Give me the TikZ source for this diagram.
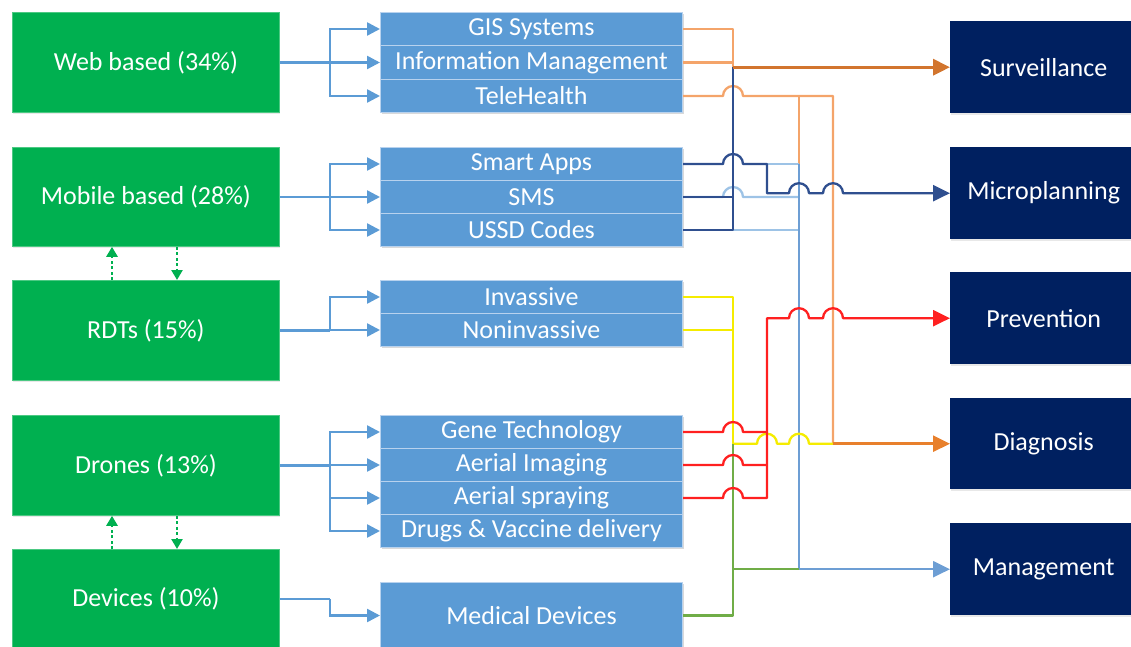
\documentclass[tikz,border=0pt]{standalone}
\usepackage{fontspec}
\setmainfont{Carlito}
\usetikzlibrary{arrows.meta,calc,shadows}
\definecolor{gfill}{HTML}{00B050}
\definecolor{gedge}{HTML}{4CC983}
\definecolor{bfill}{HTML}{5B9BD5}
\definecolor{bedge}{HTML}{B8D2EE}
\definecolor{dfill}{HTML}{002060}
\definecolor{oline}{HTML}{F4A46A}
\definecolor{sline}{HTML}{D2752E}
\definecolor{dline}{HTML}{2F4F8F}
\definecolor{lline}{HTML}{9DC3E6}
\definecolor{steel}{HTML}{6D9ED4}
\definecolor{rline}{HTML}{FF2020}
\definecolor{yline}{HTML}{F5EC00}
\definecolor{grline}{HTML}{70AD47}
\definecolor{dgo}{HTML}{E8802C}
\newcommand\hopat[1]{-- ($(#1)+(-10,0)$) arc[start angle=180,end angle=360,radius=10]}
\begin{document}
\begin{tikzpicture}[x=1pt,y=-1pt,
  every node/.style={inner sep=0pt, anchor=north west, text=white,
    font=\fontsize{26}{31}\selectfont},
  gbox/.style={draw=gedge, line width=0.8pt, fill=gfill, minimum width=267pt,
    drop shadow={shadow xshift=1pt,shadow yshift=-2pt,opacity=0.18}},
  bbox/.style={draw=bedge, line width=1pt, fill=bfill, minimum width=302pt, minimum height=33pt},
  dbox/.style={fill=dfill, minimum width=181pt, minimum height=92pt,
    drop shadow={shadow xshift=1pt,shadow yshift=-2pt,opacity=0.18}},
  lconn/.style={draw=bfill, line width=2.5pt},
  larr/.style={lconn, -{Triangle[length=13pt,width=13pt]}},
  arr/.style={-{Triangle[length=17pt,width=16pt]}},
  wire/.style={line width=2.3pt, line join=round},
  dotarr/.style={draw=gfill, line width=2.5pt, dash pattern=on 3pt off 2.5pt,
    -{Triangle[length=10pt,width=11pt]}}
]
\useasboundingbox (0,0) rectangle (1131,647);

% left green boxes
\node[gbox, minimum height=100pt] (web) at (12,12) {};
\node[gbox, minimum height=99pt]  (mob) at (12,147) {};
\node[gbox, minimum height=100pt] (rdt) at (12,280) {};
\node[gbox, minimum height=100pt] (dro) at (12,415) {};
\node[gbox, minimum height=99pt]  (dev) at (12,549) {};
\node[anchor=center] at (web.center) {Web based (34\%)};
\node[anchor=center] at (mob.center) {Mobile based (28\%)};
\node[anchor=center] at (rdt.center) {RDTs (15\%)};
\node[anchor=center] at (dro.center) {Drones (13\%)};
\node[anchor=center] at (dev.center) {Devices (10\%)};

% middle blue boxes
\begin{scope}
\fill[black,opacity=0.15] (382,14) rectangle (684,114);
\fill[black,opacity=0.15] (382,149) rectangle (684,248);
\fill[black,opacity=0.15] (382,282) rectangle (684,348);
\fill[black,opacity=0.15] (382,417) rectangle (684,549);
\fill[black,opacity=0.15] (382,584) rectangle (684,649);
\end{scope}
\node[bbox] (gis)   at (380,12)  {};
\node[bbox, minimum height=34pt] (info)  at (380,45)  {};
\node[bbox] (tele)  at (380,79)  {};
\node[bbox] (smart) at (380,147) {};
\node[bbox] (sms)   at (380,180) {};
\node[bbox] (ussd)  at (380,213) {};
\node[bbox] (inv)   at (380,280) {};
\node[bbox] (non)   at (380,313) {};
\node[bbox] (gene)  at (380,415) {};
\node[bbox] (aim)   at (380,448) {};
\node[bbox] (asp)   at (380,481) {};
\node[bbox] (drug)  at (380,514) {};
\node[bbox, minimum height=66pt] (med) at (380,582) {};
\node[anchor=center] at (gis.center)   {GIS Systems};
\node[anchor=center] at (info.center)  {Information Management};
\node[anchor=center] at (tele.center)  {TeleHealth};
\node[anchor=center] at (smart.center) {Smart Apps};
\node[anchor=center] at (sms.center)   {SMS};
\node[anchor=center] at (ussd.center)  {USSD Codes};
\node[anchor=center] at (inv.center)   {Invassive};
\node[anchor=center] at (non.center)   {Noninvassive};
\node[anchor=center] at (gene.center)  {Gene Technology};
\node[anchor=center] at (aim.center)   {Aerial Imaging};
\node[anchor=center] at (asp.center)   {Aerial spraying};
\node[anchor=center] at (drug.center)  {Drugs \& Vaccine delivery};
\node[anchor=center] at (med.center)   {Medical Devices};

% right dark boxes
\node[dbox] (sur)   at (950,21)  {};
\node[dbox] (micro) at (950,147) {};
\node[dbox] (prev)  at (950,272) {};
\node[dbox, minimum height=91pt] (diag)  at (950,398) {};
\node[dbox] (mgmt)  at (950,523) {};
\node[anchor=center, xshift=3pt] at (sur.center)   {Surveillance};
\node[anchor=center, xshift=3pt] at (micro.center) {Microplanning};
\node[anchor=center, xshift=3pt] at (prev.center)  {Prevention};
\node[anchor=center, xshift=3pt] at (diag.center)  {Diagnosis};
\node[anchor=center, xshift=3pt] at (mgmt.center)  {Management};

% bus positions
\coordinate (xL) at (330,0);
\coordinate (xA) at (733,0);
\coordinate (xB) at (767,0);
\coordinate (xC) at (799,0);
\coordinate (xD) at (833,0);
\coordinate (u1) at (112,0);
\coordinate (u2) at (177,0);

% dotted green arrows
\draw[dotarr] (rdt.north -| u1) -- (mob.south -| u1);
\draw[dotarr] (mob.south -| u2) -- (rdt.north -| u2);
\draw[dotarr] (dev.north -| u1) -- (dro.south -| u1);
\draw[dotarr] (dro.south -| u2) -- (dev.north -| u2);

% left connectors
\draw[lconn] (web.east) -- (web.east -| xL) coordinate (jw);
\foreach \t in {gis,info,tele} \draw[larr] (jw) |- (\t.west);
\draw[lconn] (mob.east) -- (mob.east -| xL) coordinate (jm);
\foreach \t in {smart,sms,ussd} \draw[larr] (jm) |- (\t.west);
\draw[lconn] (rdt.east) -- (rdt.east -| xL) coordinate (jr);
\foreach \t in {inv,non} \draw[larr] (jr) |- (\t.west);
\draw[lconn] (dro.east) -- (dro.east -| xL) coordinate (jd);
\foreach \t in {gene,aim,asp,drug} \draw[larr] (jd) |- (\t.west);
\draw[lconn] (dev.east) -- (dev.east -| xL) coordinate (jv);
\draw[larr] (jv) |- (med.west);

% web group (orange)
\draw[wire, oline] (gis.east) -| (sur.west -| xA);
\draw[wire, oline] (info.east) -- (info.east -| xA);
\draw[wire, oline] (tele.east) \hopat{tele.east -| xA} -- (tele.east -| xD) -- (diag.west -| xD);
\draw[wire, oline] (tele.east -| xC) -- (smart.east -| xC);

% mobile group
\draw[wire, lline] (sms.east) \hopat{sms.east -| xA} -- (sms.east -| xC);
\draw[wire, lline] (ussd.east -| xA) -- (ussd.east -| xC);
\draw[wire, lline] (smart.east -| xB) -- (smart.east -| xC);
\draw[wire, steel] (smart.east -| xC) -- (mgmt.west -| xC);
\draw[wire, dline] (sms.east) -- (sms.east -| xA);
\draw[wire, dline] (ussd.east) -| (sur.west -| xA);
\draw[wire, dline, arr] (smart.east) \hopat{smart.east -| xA} -- (smart.east -| xB)
  -- (micro.west -| xB) \hopat{micro.west -| xC} \hopat{micro.west -| xD} -- (micro.west);
\draw[line width=3.2pt, sline, arr] (sur.west -| xA) -- (sur.west);

% RDT group (yellow)
\draw[wire, yline] (inv.east) -| (diag.west -| xA);
\draw[wire, yline] (non.east) -- (non.east -| xA);
\draw[wire, yline] (diag.west -| xA) \hopat{diag.west -| xB} \hopat{diag.west -| xC} -- (diag.west -| xD);

% devices (green)
\draw[wire, grline] (med.east) -| (diag.west -| xA);
\draw[wire, grline] (mgmt.west -| xA) -- (mgmt.west -| xC);
\draw[wire, steel, arr] (mgmt.west -| xC) -- (mgmt.west);

% drones (red)
\draw[wire, rline] (gene.east) \hopat{gene.east -| xA} -- (gene.east -| xB);
\draw[wire, rline] (aim.east) \hopat{aim.east -| xA} -- (aim.east -| xB);
\draw[wire, rline, arr] (asp.east) \hopat{asp.east -| xA} -- (asp.east -| xB)
  -- (prev.west -| xB) \hopat{prev.west -| xC} \hopat{prev.west -| xD} -- (prev.west);

\draw[line width=2.8pt, dgo, arr] (diag.west -| xD) -- (diag.west);
\end{tikzpicture}
\end{document}
